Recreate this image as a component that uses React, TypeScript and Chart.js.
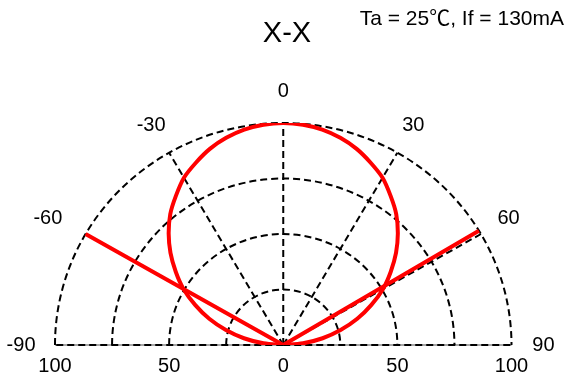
import React, { useEffect, useRef } from "react";
import { Chart, registerables } from "chart.js";

Chart.register(...registerables);

// Relative luminous intensity (%) versus angle (deg), X-X direction
const curveAngles = [
  -90, -85, -80, -75, -70, -65, -60, -55, -50, -45, -40, -35, -30, -25, -20, -15, -10, -5, 0,
  5, 10, 15, 20, 25, 30, 35, 40, 45, 50, 55, 60, 65, 70, 75, 80, 85, 90,
];
const curveValues = [
  0, 8.7, 17.5, 26, 34.5, 42.5, 50.5, 57.5, 64.5, 71, 77, 82, 87, 90.6, 94, 96.6, 98.5, 99.6, 100,
  99.6, 98.5, 96.6, 94, 90.6, 87, 82, 77, 71, 64.5, 57.5, 50.5, 42.5, 34.5, 26, 17.5, 8.7, 0,
];

// Straight red segments (angle, value)
const spikeAngles = [-60, 0, 59];
const spikeValues = [100, 0, 100];

const ringValues = [25, 50, 75, 100];
const spokeAngles = [-90, -60, -30, 0, 30, 60, 90];
const angleLabels = ["-90", "-60", "-30", "0", "30", "60", "90"];
const radialTicks = [-100, -50, 0, 50, 100];
const radialTickLabels = ["100", "50", "0", "50", "100"];

const titleText = "X-X";
const conditionText = "Ta = 25\u2103, If = 130mA";

const FONT = '"Liberation Sans", Arial, "Noto Sans CJK SC", sans-serif';

function toXY(angle: number, r: number) {
  const a = (angle * Math.PI) / 180;
  return { x: r * Math.sin(a), y: r * Math.cos(a) };
}

// small pixel nudges for angle labels
const labelNudge: Record<string, number> = { "-90": -2, "-60": -10, "-30": -2 };

const polarGrid = {
  id: "polarGrid",
  beforeDatasetsDraw(chart: any) {
    const { ctx, scales } = chart;
    const xs = scales.x;
    const ys = scales.y;
    const x0 = xs.getPixelForValue(0);
    const y0 = ys.getPixelForValue(0);
    ctx.save();
    ctx.strokeStyle = "#8a8a8a";
    ctx.lineWidth = 1.5;
    ctx.setLineDash([]);
    ctx.beginPath();
    ctx.moveTo(xs.getPixelForValue(-100), y0);
    ctx.lineTo(xs.getPixelForValue(100), y0);
    ctx.stroke();

    ctx.strokeStyle = "#000";
    ctx.lineWidth = 2;
    ctx.setLineDash([7, 4]);
    for (const r of ringValues) {
      const rx = xs.getPixelForValue(r) - x0;
      const ry = y0 - ys.getPixelForValue(r);
      ctx.beginPath();
      ctx.ellipse(x0, y0, rx, ry, 0, Math.PI, 2 * Math.PI);
      ctx.stroke();
    }
    for (const a of spokeAngles) {
      const p = toXY(a, 100);
      ctx.beginPath();
      ctx.moveTo(x0, y0);
      ctx.lineTo(xs.getPixelForValue(p.x), ys.getPixelForValue(p.y));
      ctx.stroke();
    }
    ctx.restore();
  },
  afterDraw(chart: any) {
    const { ctx, scales } = chart;
    const xs = scales.x;
    const ys = scales.y;
    const y0 = ys.getPixelForValue(0);
    ctx.save();
    ctx.fillStyle = "#000";
    ctx.textAlign = "center";
    ctx.textBaseline = "middle";
    ctx.font = `20px ${FONT}`;
    spokeAngles.forEach((a, i) => {
      const p = toXY(a, 114);
      const lbl = angleLabels[i];
      ctx.fillText(lbl, xs.getPixelForValue(p.x) + (labelNudge[lbl] || 0), ys.getPixelForValue(p.y));
    });
    radialTicks.forEach((v, i) => {
      ctx.fillText(radialTickLabels[i], xs.getPixelForValue(v), y0 + 21);
    });
    ctx.font = `29px ${FONT}`;
    ctx.fillText(titleText, 287, 34);
    ctx.font = `21px ${FONT}`;
    ctx.textAlign = "right";
    ctx.fillText(conditionText, 564, 19);
    ctx.restore();
  },
};

export default function App() {
  const ref = useRef<HTMLCanvasElement | null>(null);
  useEffect(() => {
    if (!ref.current) return;
    const curve = curveAngles.map((a, i) => toXY(a, curveValues[i]));
    const spikes = spikeAngles.map((a, i) => toXY(a, spikeValues[i]));
    const chart = new Chart(ref.current, {
      type: "scatter",
      data: {
        datasets: [
          {
            data: curve,
            showLine: true,
            borderColor: "#ff0000",
            borderWidth: 4,
            pointRadius: 0,
            tension: 0.3,
          },
          {
            data: spikes,
            showLine: true,
            borderColor: "#ff0000",
            borderWidth: 4,
            pointRadius: 0,
            tension: 0,
          },
        ],
      },
      options: {
        responsive: false,
        animation: false,
        layout: { padding: { left: 55, right: 57.5, top: 123, bottom: 37 } },
        scales: {
          x: { type: "linear", min: -100, max: 100, display: false },
          y: { type: "linear", min: 0, max: 100, display: false },
        },
        plugins: {
          legend: { display: false },
          tooltip: { enabled: false },
          title: { display: false },
        },
      },
      plugins: [polarGrid],
    });
    return () => chart.destroy();
  }, []);
  return (
    <div style={{ position: "fixed", left: 0, top: 0, width: 569, height: 382, background: "#fff" }}>
      <canvas ref={ref} width={569} height={382} style={{ width: 569, height: 382 }} />
    </div>
  );
}
